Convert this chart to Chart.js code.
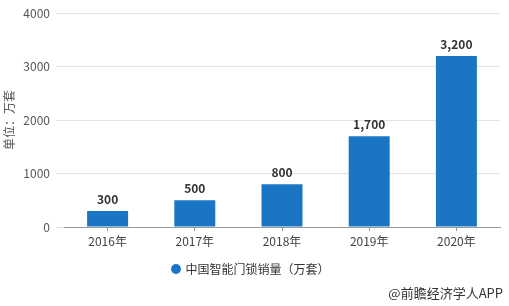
<!DOCTYPE html>
<html>
<head>
<meta charset="utf-8">
<script src="https://cdn.jsdelivr.net/npm/chart.js@4"></script>
<style>
  html, body { margin: 0; padding: 0; background: #fff; }
  #wrap { position: relative; width: 509px; height: 306px; }
  #credit { position: absolute; right: 6px; top: 283px; font: 13px "Noto Sans CJK SC", sans-serif; color: #333; }
</style>
</head>
<body>
<div id="wrap">
  <canvas id="myChart" width="509" height="306"></canvas>
  <div id="credit">@前瞻经济学人APP</div>
</div>
<script>
const years = ['2016年', '2017年', '2018年', '2019年', '2020年']
const sales = [300, 500, 800, 1700, 3200]
const yTicks = [0, 1000, 2000, 3000, 4000]
const seriesName = '中国智能门锁销量（万套）'
const unitLabel = '单位：万套'

const FONT = '"Noto Sans CJK SC", "Noto Sans", sans-serif'
Chart.defaults.font.family = FONT

// value labels above bars
const barLabels = {
    id: 'barLabels',
    afterDatasetsDraw(chart) {
        const c = chart.ctx
        const meta = chart.getDatasetMeta(0)
        c.save()
        c.font = 'bold 12px ' + FONT
        c.fillStyle = '#333'
        c.textAlign = 'center'
        c.textBaseline = 'bottom'
        meta.data.forEach((bar, i) => {
            c.fillText(sales[i].toLocaleString('en-US'), bar.x, bar.y - 6)
        })
        c.restore()
    }
}

let ctx = document.getElementById('myChart')
let myChart = new Chart(ctx, {
    type: 'bar',
    data: {
        labels: years,
        datasets: [{
            label: seriesName,
            data: sales,
            backgroundColor: '#1a76c5',
            barPercentage: 0.94,
            categoryPercentage: 0.5
        }]
    },
    options: {
        responsive: false,
        animation: false,
        layout: { padding: { top: 9, right: 9, left: 2, bottom: 21 } },
        plugins: {
            legend: {
                position: 'bottom',
                labels: {
                    usePointStyle: true,
                    pointStyle: 'circle',
                    boxWidth: 7,
                    boxHeight: 7,
                    padding: 10,
                    color: '#333',
                    font: { size: 12 }
                }
            },
            tooltip: { enabled: false }
        },
        scales: {
            y: {
                min: 0,
                max: 4000,
                afterBuildTicks: axis => { axis.ticks = yTicks.map(v => ({ value: v })) },
                afterFit: axis => { axis.width = 62 },
                border: { display: false },
                grid: { color: '#e2e2e2', tickLength: 8, tickColor: '#e2e2e2' },
                ticks: { color: '#555', font: { size: 12 }, padding: 6, callback: v => String(v) },
                title: { display: true, text: unitLabel, color: '#555', font: { size: 12 }, padding: 0 }
            },
            x: {
                afterFit: axis => { axis.height = 26 },
                border: { color: '#999' },
                grid: { drawOnChartArea: false, offset: false, tickLength: 4, tickColor: '#999' },
                ticks: { color: '#444', font: { size: 12 }, padding: 3 }
            }
        }
    },
    plugins: [barLabels]
})
</script>
</body>
</html>
